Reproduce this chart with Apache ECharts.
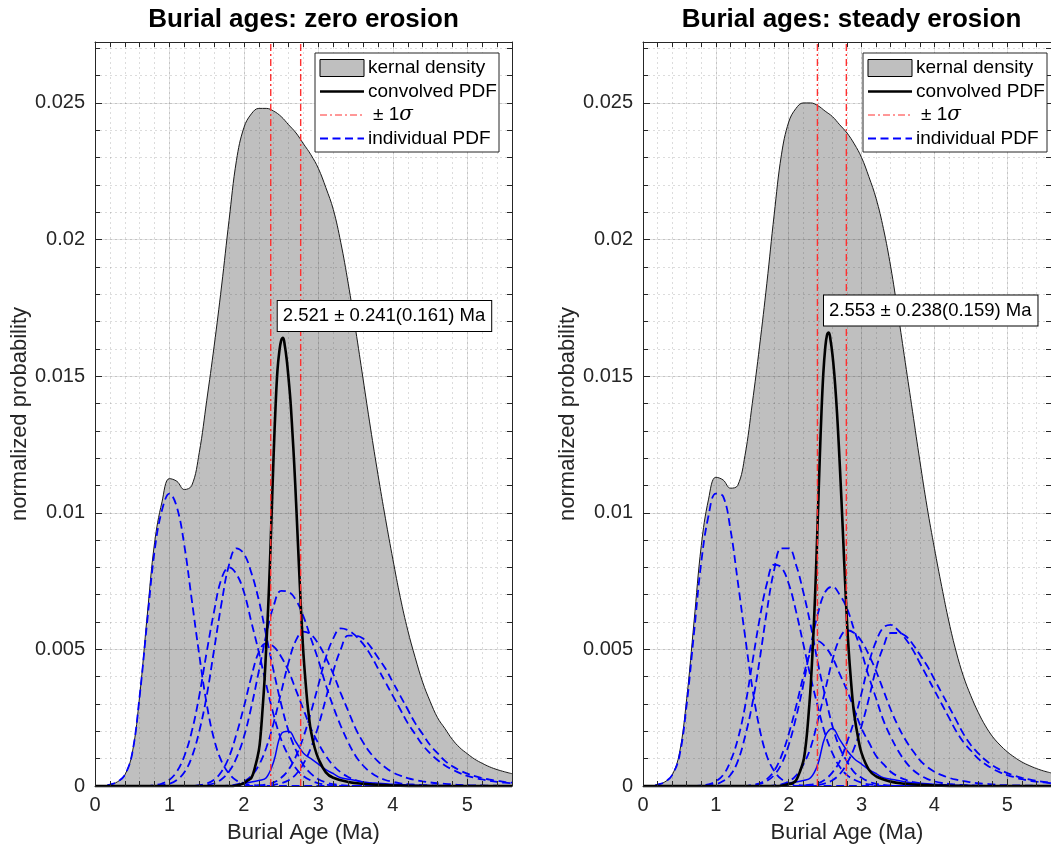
<!DOCTYPE html>
<html>
<head>
<meta charset="utf-8">
<script src="https://cdn.jsdelivr.net/npm/echarts@6/dist/echarts.min.js"></script>
<style>html,body{margin:0;padding:0;background:#fff;overflow:hidden}#c{width:1051px;height:852px}</style>
</head>
<body>
<div id="c"></div>
<script>
// ---------------- DATA ----------------
const titles = ['Burial ages: zero erosion', 'Burial ages: steady erosion'];
const xMajorTicks = [0, 1, 2, 3, 4, 5];
const yMajorTicks = [0, 0.005, 0.01, 0.015, 0.02, 0.025];
const legendNames = ['kernal density', 'convolved PDF', '\u00b1 1', 'individual PDF'];

const ages = [0,0.1,0.2,0.3,0.4,0.5,0.6,0.7,0.8,0.9,
  1,1.1,1.2,1.3,1.4,1.5,1.6,1.7,1.8,1.9,
  2,2.1,2.2,2.3,2.4,2.5,2.6,2.7,2.8,2.9,
  3,3.1,3.2,3.3,3.4,3.5,3.6,3.7,3.8,3.9,
  4,4.1,4.2,4.3,4.4,4.5,4.6,4.7,4.8,4.9,
  5,5.1,5.2,5.3,5.4,5.5,5.6];

// kernel density
const kernelZero = [0,0,0.00005,0.00015,0.0004,0.0012,0.0033,0.0062,0.0089,0.0104,
  0.01125,0.01115,0.01085,0.0110,0.0122,0.0141,0.0161,0.0183,0.0207,0.0229,
  0.0241,0.0246,0.0248,0.0248,0.0247,0.0245,0.0242,0.0239,0.0235,0.0231,
  0.0226,0.0219,0.0211,0.0199,0.0184,0.0167,0.0149,0.0131,0.0114,0.0098,
  0.0083,0.0069,0.0057,0.0047,0.0038,0.0031,0.0025,0.0021,0.0017,0.0014,
  0.00118,0.00098,0.00083,0.0007,0.0006,0.00052,0.00045];
const kernelSteady = [0,0,0.00005,0.00015,0.0004,0.0012,0.0032,0.0060,0.0088,0.0105,
  0.0113,0.0112,0.0109,0.0110,0.0121,0.0140,0.0161,0.0184,0.0209,0.0231,
  0.0243,0.0248,0.0250,0.0250,0.0249,0.0247,0.0245,0.0242,0.0239,0.0235,
  0.0230,0.0223,0.0215,0.0204,0.0190,0.0173,0.0155,0.0137,0.0119,0.0102,
  0.0087,0.0073,0.0060,0.0049,0.0040,0.0033,0.0027,0.0022,0.0018,0.0015,
  0.00125,0.00105,0.00088,0.00075,0.00064,0.00055,0.00048];

// individual PDFs, zero erosion
const pdfA0 = [0,0,0.00005,0.00015,0.0004,0.0012,0.0033,0.0060,0.0086,0.0101,
  0.0107,0.0102,0.0088,0.0068,0.0048,0.0030,0.0017,0.0009,0.00045,0.0002,
  0.0001,0.00004,0.00002,0,0,0,0,0,0,0,
  0,0,0,0,0,0,0,0,0,0,
  0,0,0,0,0,0,0,0,0,0,
  0,0,0,0,0,0,0];
const pdfB0 = [0,0,0,0,0,0,0,0,0,0.00003,
  0.00008,0.00022,0.0005,0.00106,0.0020,0.0033,0.0050,0.0067,0.0081,0.0087,
  0.0085,0.0078,0.0068,0.0055,0.0042,0.0030,0.0020,0.0013,0.00076,0.00045,
  0.00025,0.00013,0.00007,0.00003,0.00001,0,0,0,0,0,
  0,0,0,0,0,0,0,0,0,0,
  0,0,0,0,0,0,0];
const pdfC0 = [0,0,0,0,0,0,0,0,0.00003,0.00009,
  0.00023,0.00053,0.0011,0.0020,0.0033,0.0049,0.0064,0.0076,0.0080,0.00775,
  0.0071,0.0060,0.0049,0.0037,0.0026,0.0017,0.0011,0.00064,0.00036,0.0002,
  0.0001,0.00005,0.00002,0,0,0,0,0,0,0,
  0,0,0,0,0,0,0,0,0,0,
  0,0,0,0,0,0,0];
const pdfD0 = [0,0,0,0,0,0,0,0,0,0,
  0,0,0,0,0,0.00004,0.0001,0.00025,0.00053,0.00103,
  0.0018,0.0029,0.0042,0.00554,0.0066,0.00714,0.0071,0.0068,0.0062,0.0054,
  0.0046,0.0037,0.0029,0.0022,0.0016,0.0011,0.00075,0.0005,0.00033,0.00022,
  0.00015,0.0001,0.00007,0.00005,0.00003,0.00002,0.00001,0,0,0,
  0,0,0,0,0,0,0];
const pdfE0 = [0,0,0,0,0,0,0,0,0,0,
  0,0,0,0,0.00003,0.00009,0.00023,0.00053,0.00106,0.0019,
  0.0029,0.0040,0.0049,0.00522,0.0051,0.00473,0.0042,0.0035,0.0028,0.0021,
  0.00156,0.0011,0.00075,0.0005,0.00033,0.00022,0.00014,0.00009,0.00006,0.00004,
  0.00002,0,0,0,0,0,0,0,0,0,
  0,0,0,0,0,0,0];
const pdfF0 = [0,0,0,0,0,0,0,0,0,0,
  0,0,0,0,0,0,0,0,0.00002,0.00006,
  0.00016,0.00037,0.00076,0.0014,0.00232,0.00343,0.00453,0.00534,0.00565,0.00554,
  0.0052,0.0047,0.0041,0.0034,0.00275,0.0021,0.0016,0.0012,0.0009,0.00068,
  0.0005,0.00038,0.00029,0.00022,0.00017,0.00013,0.0001,0.00008,0.00006,0.00004,
  0.00003,0.00002,0.00002,0.00001,0.00001,0,0];
const pdfG0 = [0,0,0,0,0,0,0,0,0,0,
  0,0,0,0,0,0,0,0,0,0,
  0,0,0.00002,0.00006,0.00013,0.0003,0.0006,0.0011,0.0018,0.0027,
  0.0037,0.0047,0.0054,0.00577,0.0057,0.0055,0.0052,0.0048,0.0043,0.0038,
  0.0033,0.0028,0.0023,0.0019,0.0015,0.0012,0.00095,0.00075,0.0006,0.00047,
  0.00037,0.0003,0.00024,0.00019,0.00015,0.00012,0.0001];
const pdfH0 = [0,0,0,0,0,0,0,0,0,0,
  0,0,0,0,0,0,0,0,0,0,
  0,0,0,0.00002,0.00004,0.0001,0.00021,0.00043,0.00082,0.0014,
  0.0022,0.0032,0.0042,0.0050,0.0055,0.0055,0.0054,0.0051,0.0047,0.0043,
  0.0038,0.0033,0.0028,0.0023,0.0019,0.0015,0.0012,0.00092,0.00072,0.00057,
  0.00045,0.00036,0.00029,0.00023,0.00019,0.00015,0.00012];
const pdfI0 = [0,0,0,0,0,0,0,0,0,0,
  0,0,0,0,0,0,0,0,0,0,
  0.0001,0.00015,0.0002,0.0003,0.0009,0.0019,0.0020,0.0016,0.0012,0.0010,
  0.0008,0.0006,0.00045,0.0003,0.00025,0.0002,0.00015,0.00012,0.0001,0.00008,
  0.00006,0.00005,0.00004,0.00003,0.00003,0.00002,0.00002,0.00001,0.00001,0,
  0,0,0,0,0,0,0];

// individual PDFs, steady erosion
const pdfA1 = [0,0,0.00005,0.00015,0.0004,0.0011,0.0030,0.0056,0.0082,0.0099,
  0.0107,0.0106,0.0094,0.0075,0.0055,0.0036,0.0021,0.0011,0.00055,0.00025,
  0.0001,0.00004,0.00002,0,0,0,0,0,0,0,
  0,0,0,0,0,0,0,0,0,0,
  0,0,0,0,0,0,0,0,0,0,
  0,0,0,0,0,0,0];
const pdfB1 = [0,0,0,0,0,0,0,0,0,0.00002,
  0.00006,0.00018,0.0004,0.0009,0.0018,0.0030,0.0046,0.0064,0.0079,0.0087,
  0.0087,0.0081,0.0071,0.0059,0.0045,0.0033,0.0022,0.0014,0.0009,0.0005,
  0.0003,0.00016,0.00008,0.00004,0.00002,0,0,0,0,0,
  0,0,0,0,0,0,0,0,0,0,
  0,0,0,0,0,0,0];
const pdfC1 = [0,0,0,0,0,0,0,0,0.00002,0.00006,
  0.00017,0.0004,0.0009,0.0017,0.0029,0.0045,0.0061,0.0074,0.0081,0.0080,
  0.0074,0.0064,0.0052,0.0040,0.0029,0.0019,0.0012,0.0007,0.0004,0.00023,
  0.00012,0.00006,0.00003,0,0,0,0,0,0,0,
  0,0,0,0,0,0,0,0,0,0,
  0,0,0,0,0,0,0];
const pdfD1 = [0,0,0,0,0,0,0,0,0,0,
  0,0,0,0,0,0.00002,0.00007,0.00018,0.0004,0.0008,
  0.0015,0.0025,0.0037,0.0051,0.0063,0.0071,0.0073,0.0070,0.0065,0.0057,
  0.0049,0.0040,0.0032,0.0024,0.0018,0.0013,0.0009,0.0006,0.0004,0.00026,
  0.00017,0.00011,0.00008,0.00005,0.00003,0.00002,0.00001,0,0,0,
  0,0,0,0,0,0,0];
const pdfE1 = [0,0,0,0,0,0,0,0,0,0,
  0,0,0,0,0,0.00004,0.0001,0.00025,0.00055,0.0011,
  0.0019,0.0029,0.0040,0.0049,0.0053,0.0051,0.0047,0.0041,0.0035,0.0028,
  0.0021,0.0016,0.0011,0.0008,0.00052,0.00035,0.00023,0.00015,0.0001,0.00006,
  0.00004,0.00002,0,0,0,0,0,0,0,0,
  0,0,0,0,0,0,0];
const pdfF1 = [0,0,0,0,0,0,0,0,0,0,
  0,0,0,0,0,0,0,0,0.00002,0.00006,
  0.00016,0.00038,0.00078,0.0014,0.0024,0.0035,0.0046,0.0054,0.0057,0.0056,
  0.0053,0.0048,0.0042,0.0035,0.0028,0.0022,0.0017,0.0013,0.00095,0.0007,
  0.00052,0.0004,0.0003,0.00023,0.00018,0.00014,0.0001,0.00008,0.00006,0.00004,
  0.00003,0.00002,0.00002,0.00001,0.00001,0,0];
const pdfG1 = [0,0,0,0,0,0,0,0,0,0,
  0,0,0,0,0,0,0,0,0,0,
  0,0,0.00002,0.00005,0.0001,0.00024,0.0005,0.0009,0.0016,0.0024,
  0.0034,0.0045,0.0053,0.0058,0.0059,0.0057,0.0054,0.0050,0.0045,0.0040,
  0.0035,0.0030,0.0025,0.0020,0.0016,0.0013,0.0010,0.0008,0.00063,0.0005,
  0.0004,0.00032,0.00025,0.0002,0.00016,0.00013,0.0001];
const pdfH1 = [0,0,0,0,0,0,0,0,0,0,
  0,0,0,0,0,0,0,0,0,0,
  0,0,0,0.00002,0.00004,0.0001,0.00021,0.00043,0.00083,0.0014,
  0.0022,0.0032,0.0043,0.0051,0.0056,0.0056,0.0055,0.0052,0.0048,0.0044,
  0.0039,0.0034,0.0029,0.0024,0.0019,0.0015,0.0012,0.00095,0.00075,0.0006,
  0.00047,0.00038,0.0003,0.00024,0.00019,0.00015,0.00012];
const pdfI1 = [0,0,0,0,0,0,0,0,0,0,
  0,0,0,0,0,0,0,0,0,0,
  0.0001,0.00015,0.0002,0.0003,0.0008,0.0018,0.0021,0.0017,0.0013,0.0010,
  0.0008,0.0006,0.00045,0.0003,0.00025,0.0002,0.00015,0.00012,0.0001,0.00008,
  0.00006,0.00005,0.00004,0.00003,0.00003,0.00002,0.00002,0.00001,0.00001,0,
  0,0,0,0,0,0,0];

// convolved PDF (finer sampling around the narrow peak)
const convAges = [0,1.8,1.9,2.0,2.05,2.1,2.15,2.2,
  2.225,2.25,2.275,2.3,2.325,2.35,2.375,2.4,2.425,2.45,2.475,2.5,2.525,2.55,2.575,2.6,
  2.625,2.65,2.675,2.7,2.725,2.75,2.775,2.8,2.825,2.85,2.875,2.9,
  2.95,3.0,3.1,3.2,3.4,3.6,3.8,4.0,4.5,5.6];
const convZero = [0,0,0.00002,0.0001,0.0002,0.0003,0.0007,0.0013,
  0.0019,0.0028,0.0038,0.0051,0.0065,0.0082,0.0102,0.0122,0.0139,0.0152,0.0159,0.0163,0.0164,0.0161,0.0156,0.0149,
  0.0141,0.0130,0.0118,0.0104,0.0089,0.0074,0.0060,0.0048,0.0039,0.0031,0.0025,0.0020,
  0.0014,0.0010,0.0005,0.0003,0.00015,0.00008,0.00004,0.00002,0,0];
const convSteady = [0,0,0.00001,0.00007,0.0001,0.0002,0.0005,0.0009,
  0.0013,0.0019,0.0027,0.0036,0.0048,0.0062,0.0079,0.0099,0.0119,0.0137,0.0151,0.0160,0.0165,0.0166,0.0163,0.0158,
  0.0151,0.0142,0.0131,0.0118,0.0104,0.0089,0.0074,0.0060,0.0049,0.0040,0.0032,0.0026,
  0.0018,0.0012,0.0006,0.00035,0.00016,0.00008,0.00004,0.00002,0,0];

// summary statistics (Ma)
const meanAge = [2.521, 2.553];
const errPlus = [0.241, 0.238];
const errMinus = [0.161, 0.159];

// ---------------- LAYOUT / STYLE ----------------
const X_MAX = 5.6, Y_MAX = 0.02723;
const GRID_TOP = 42, GRID_H = 744, GRID_W = 417;
const GRID_LEFTS = [95, 643];
const FONT = '"Liberation Sans", Arial, Helvetica, sans-serif';
const AX = '#262626';
const BLUE = '#0000ff';
const RED = '#ff3030';
const MINOR_GRID = 'rgba(38,38,38,0.16)';
const MAJOR_GRID = 'rgba(38,38,38,0.13)';
const SMOOTH = 0.4;
const PDF_DASH = [8, 4.5];

const panels = [
  {kernel: kernelZero, conv: convZero, pdfs: [pdfA0, pdfB0, pdfC0, pdfD0, pdfE0, pdfF0, pdfG0, pdfH0], solid: pdfI0},
  {kernel: kernelSteady, conv: convSteady, pdfs: [pdfA1, pdfB1, pdfC1, pdfD1, pdfE1, pdfF1, pdfG1, pdfH1], solid: pdfI1}
];

function fmtFrom(list) {
  return v => { for (const t of list) { if (Math.abs(v - t) < 1e-9) return String(t); } return ''; };
}

const grid = [], xAxis = [], yAxis = [], series = [];
panels.forEach((P, p) => {
  grid.push({left: GRID_LEFTS[p], top: GRID_TOP, width: GRID_W, height: GRID_H, containLabel: false});
  const base = {gridIndex: p, type: 'value', min: 0, z: 5};
  xAxis.push(Object.assign({}, base, {
    max: X_MAX, interval: 0.2, position: 'bottom',
    axisLine: {show: true, onZero: false, lineStyle: {color: AX, width: 1}},
    axisTick: {show: true, inside: true, length: 5, interval: 0, lineStyle: {color: AX}},
    axisLabel: {show: true, margin: 9, color: AX, fontSize: 20, fontFamily: FONT, formatter: fmtFrom(xMajorTicks), showMaxLabel: false},
    splitLine: {show: true, interval: 0, lineStyle: {color: MINOR_GRID, width: 1, type: [2, 3]}},
    name: 'Burial Age (Ma)', nameLocation: 'middle', nameGap: 36,
    nameTextStyle: {color: AX, fontSize: 22, fontFamily: FONT}
  }));
  xAxis.push(Object.assign({}, base, {
    max: X_MAX, interval: 1, position: 'bottom',
    axisLine: {show: false, onZero: false},
    axisTick: {show: true, inside: true, length: 7, interval: 0, lineStyle: {color: AX}},
    axisLabel: {show: false},
    splitLine: {show: true, interval: 0, lineStyle: {color: MAJOR_GRID, width: 1}}
  }));
  xAxis.push(Object.assign({}, base, {
    max: X_MAX, interval: 0.2, position: 'top',
    axisLine: {show: true, onZero: false, lineStyle: {color: AX, width: 1}},
    axisTick: {show: true, inside: true, length: 5, interval: 0, lineStyle: {color: AX}},
    axisLabel: {show: false}, splitLine: {show: false}
  }));
  yAxis.push(Object.assign({}, base, {
    max: Y_MAX, interval: 0.001, position: 'left',
    axisLine: {show: true, onZero: false, lineStyle: {color: AX, width: 1}},
    axisTick: {show: true, inside: true, length: 5, interval: 0, lineStyle: {color: AX}},
    axisLabel: {show: true, margin: 10, color: AX, fontSize: 20, fontFamily: FONT, formatter: fmtFrom(yMajorTicks), showMaxLabel: false},
    splitLine: {show: true, interval: 0, lineStyle: {color: MINOR_GRID, width: 1, type: [2, 3]}},
    name: 'normalized probability', nameLocation: 'middle', nameGap: 46, nameRotate: 90,
    nameTextStyle: {color: AX, fontSize: 22, fontFamily: FONT}
  }));
  yAxis.push(Object.assign({}, base, {
    max: Y_MAX, interval: 0.005, position: 'left',
    axisLine: {show: false, onZero: false},
    axisTick: {show: true, inside: true, length: 7, interval: 0, lineStyle: {color: AX}},
    axisLabel: {show: false},
    splitLine: {show: true, interval: 0, lineStyle: {color: MAJOR_GRID, width: 1}}
  }));
  yAxis.push(Object.assign({}, base, {
    max: Y_MAX, interval: 0.001, position: 'right',
    axisLine: {show: true, onZero: false, lineStyle: {color: AX, width: 1}},
    axisTick: {show: true, inside: true, length: 5, interval: 0, lineStyle: {color: AX}},
    axisLabel: {show: false}, splitLine: {show: false}
  }));

  const xi = 3 * p, yi = 3 * p;
  const common = {type: 'line', xAxisIndex: xi, yAxisIndex: yi, symbol: 'none', showSymbol: false, clip: false, animation: false, silent: true, smooth: SMOOTH};
  series.push(Object.assign({}, common, {
    name: 'kernal density', data: ages.map((a, i) => [a, P.kernel[i]]),
    lineStyle: {color: '#1a1a1a', width: 1}, areaStyle: {color: '#bfbfbf', opacity: 1}, z: 1
  }));
  P.pdfs.forEach((arr) => {
    series.push(Object.assign({}, common, {
      name: 'individual PDF', data: ages.map((a, i) => [a, arr[i]]),
      lineStyle: {color: BLUE, width: 1.8, type: PDF_DASH}, z: 2
    }));
  });
  series.push(Object.assign({}, common, {
    name: 'individual PDF', data: ages.map((a, i) => [a, P.solid[i]]),
    lineStyle: {color: BLUE, width: 1.5}, z: 2
  }));
  series.push(Object.assign({}, common, {
    name: 'convolved PDF', data: convAges.map((a, i) => [a, P.conv[i]]),
    lineStyle: {color: '#000', width: 2.6}, z: 3
  }));
  [meanAge[p] - errMinus[p], meanAge[p] + errPlus[p]].forEach(x => {
    series.push(Object.assign({}, common, {
      name: '\u00b1 1\u03c3', data: [[x, 0], [x, Y_MAX]], smooth: false,
      lineStyle: {color: RED, width: 1.4, type: [7, 3, 2, 3]}, z: 4
    }));
  });
});

const chart = echarts.init(document.getElementById('c'));
chart.setOption({animation: false, backgroundColor: '#fff', grid, xAxis, yAxis, series});

// ---------------- TITLES, LEGENDS, ANNOTATIONS ----------------
const graphics = [];
panels.forEach((P, p) => {
  const gl = GRID_LEFTS[p];
  graphics.push({type: 'text', x: gl + GRID_W / 2, y: 20, z: 100,
    style: {text: titles[p], font: 'bold 26px ' + FONT, fill: '#000', align: 'center', verticalAlign: 'middle'}});

  const lx = gl + GRID_W - 13 - 184, ly = GRID_TOP + 11, lw = 184, lh = 99;
  graphics.push({type: 'rect', z: 100, shape: {x: lx, y: ly, width: lw, height: lh},
    style: {fill: '#fff', stroke: '#262626', lineWidth: 1}});
  const rows = [15, 38.5, 62, 85.5];
  const ix1 = lx + 5, ix2 = lx + 49, tx = lx + 53;
  graphics.push({type: 'rect', z: 101, shape: {x: ix1, y: ly + rows[0] - 8.5, width: 44, height: 17},
    style: {fill: '#bfbfbf', stroke: '#000', lineWidth: 1}});
  graphics.push({type: 'line', z: 101, shape: {x1: ix1, y1: ly + rows[1], x2: ix2, y2: ly + rows[1]},
    style: {stroke: '#000', lineWidth: 2.6}});
  graphics.push({type: 'line', z: 101, shape: {x1: ix1, y1: ly + rows[2], x2: ix2, y2: ly + rows[2]},
    style: {stroke: RED, lineWidth: 1, lineDash: [7, 3, 2, 3]}});
  graphics.push({type: 'line', z: 101, shape: {x1: ix1, y1: ly + rows[3], x2: ix2, y2: ly + rows[3]},
    style: {stroke: BLUE, lineWidth: 1.8, lineDash: PDF_DASH}});
  [0, 1, 3].forEach(k => {
    graphics.push({type: 'text', z: 101, x: tx, y: ly + rows[k],
      style: {text: legendNames[k], font: '19px ' + FONT, fill: '#000', align: 'left', verticalAlign: 'middle'}});
  });
  graphics.push({type: 'text', z: 101, x: tx + 5, y: ly + rows[2],
    style: {text: '{a|' + legendNames[2] + '}{b|\u03c3}', align: 'left', verticalAlign: 'middle',
      rich: {a: {font: '19px ' + FONT, fill: '#000'}, b: {font: 'italic 20px "DejaVu Serif", "Liberation Serif", serif', fill: '#000'}}}});

  const peak = Math.max.apply(null, P.conv);
  const pt = chart.convertToPixel({xAxisIndex: 3 * p, yAxisIndex: 3 * p}, [meanAge[p], peak]);
  const label = meanAge[p].toFixed(3) + ' \u00b1 ' + errPlus[p].toFixed(3) + '(' + errMinus[p].toFixed(3) + ') Ma';
  graphics.push({type: 'text', z: 102, x: pt[0] - 5, y: pt[1] - 7,
    style: {text: label, font: '18.5px ' + FONT, fill: '#000', align: 'left', verticalAlign: 'bottom',
      backgroundColor: '#fff', borderColor: '#000', borderWidth: 1, padding: [6, 6, 5, 5]}});
});
chart.setOption({graphic: graphics});
</script>
</body>
</html>
